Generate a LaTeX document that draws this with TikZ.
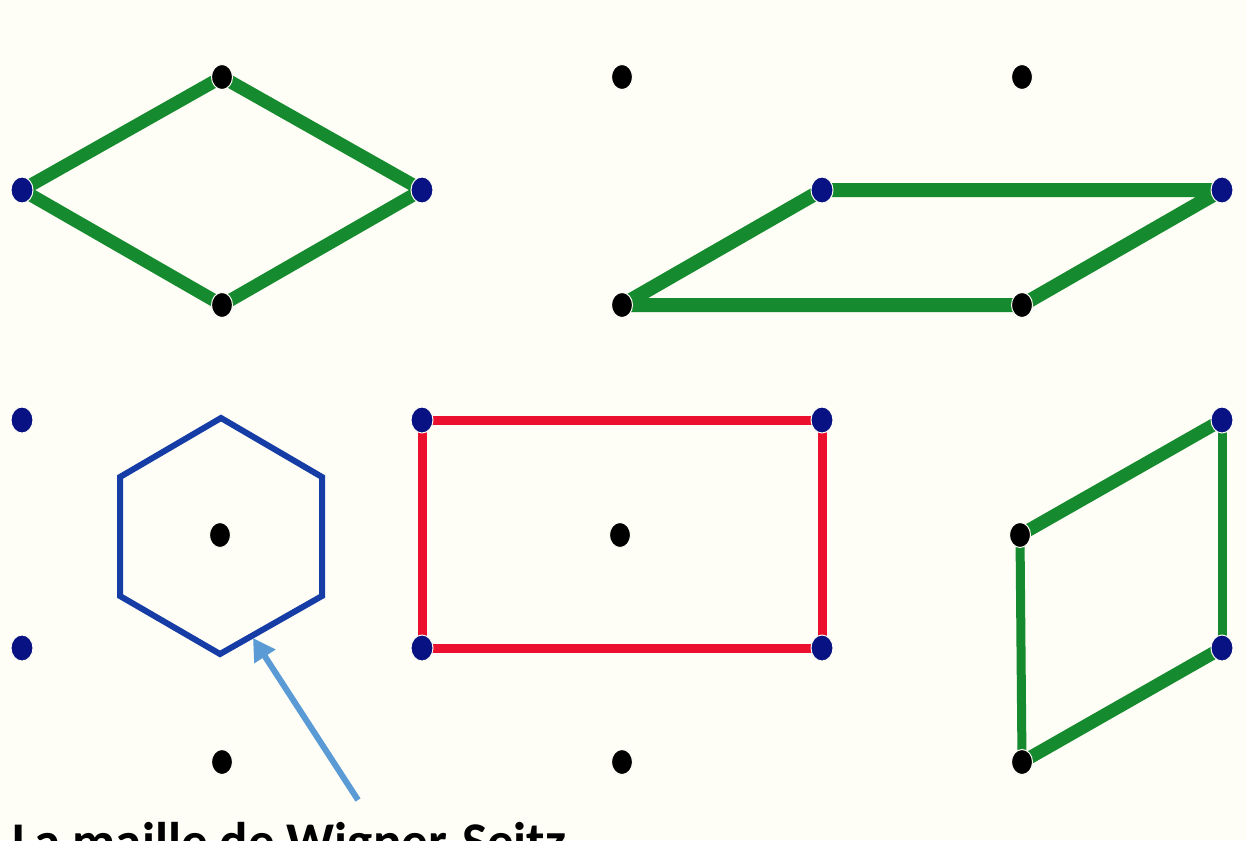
\documentclass[tikz,border=0pt]{standalone}
\usepackage{fontspec}
\setmainfont{Carlito}
\usetikzlibrary{shapes.geometric,arrows.meta,backgrounds}
\definecolor{bgc}{RGB}{254,254,246}
\definecolor{gr}{RGB}{22,138,46}
\definecolor{dblue}{RGB}{8,18,130}
\definecolor{hexblue}{RGB}{22,60,165}
\definecolor{rd}{RGB}{235,16,45}
\definecolor{arr}{RGB}{91,155,213}
\tikzset{
  bdot/.style={ellipse,fill=black,draw=bgc,line width=1pt,minimum width=21pt,minimum height=25pt,inner sep=0pt},
  udot/.style={ellipse,fill=dblue,draw=bgc,line width=1pt,minimum width=22pt,minimum height=26pt,inner sep=0pt},
  gline/.style={draw=gr,line width=13pt,line join=round},
  gthick/.style={draw=gr,line width=14pt,line join=round},
  gthin/.style={draw=gr,line width=9pt},
  rline/.style={draw=rd,line width=9pt},
  hexline/.style={draw=hexblue,line width=6pt,line join=miter},
  pointer/.style={draw=arr,line width=6pt,-{Triangle[length=22pt,width=24pt]}},
  label/.style={anchor=base west,inner sep=0pt,font=\bfseries\fontsize{53}{60}\selectfont}
}
\begin{document}
\begin{tikzpicture}[x=1pt,y=-1pt]
\useasboundingbox (0,0) rectangle (1246,840);
\clip (0,0) rectangle (1246,840);
% black dots
\foreach \n/\x/\y in {a1/222/77,a2/622/77,a3/1022/77,
                      c1/222/305,c2/622/305,c3/1022/305,
                      e1/220/535,e2/620/535,e3/1020/535,
                      g1/222/762,g2/622/762,g3/1022/762}
  \node[bdot] (\n) at (\x,\y) {};
% blue dots
\foreach \n/\x/\y in {b0/22/190,b1/422/190,b2/822/190,b3/1222/190,
                      d0/22/420,d1/422/420,d2/822/420,d3/1222/420,
                      f0/22/648,f1/422/648,f2/822/648,f3/1222/648}
  \node[udot] (\n) at (\x,\y) {};
\begin{scope}[on background layer]
  \fill[bgc] (0,0) rectangle (1246,840);
  % rhombus
  \draw[gline] (a1.center) -- (b1.center) -- (c1.center) -- (b0.center) -- cycle;
  % top-right parallelogram
  \draw[gthick] (c2.center) -- (b2.center) -- (b3.center) -- (c3.center) -- cycle;
  % red rectangle
  \draw[rline] (d1.center) -- (d2.center) -- (f2.center) -- (f1.center) -- cycle;
  % bottom-right parallelogram
  \draw[gline] (e3.center) -- (d3.center);
  \draw[gline] (f3.center) -- (g3.center);
  \draw[gthin] (d3.center) -- (f3.center);
  \draw[gthin] (e3.center) -- (g3.center);
  % Wigner-Seitz hexagon
  \draw[hexline] (221,418) -- (322,477) -- (322,596) -- (220,654) -- (120,596) -- (120,477) -- cycle;
\end{scope}
\coordinate (tip) at (253,638);
\coordinate (tail) at (358,800);
\draw[pointer] (tail) -- (tip);
\node[label] (ws) at (12,859) {La maille de Wigner-Seitz};
\end{tikzpicture}
\end{document}
